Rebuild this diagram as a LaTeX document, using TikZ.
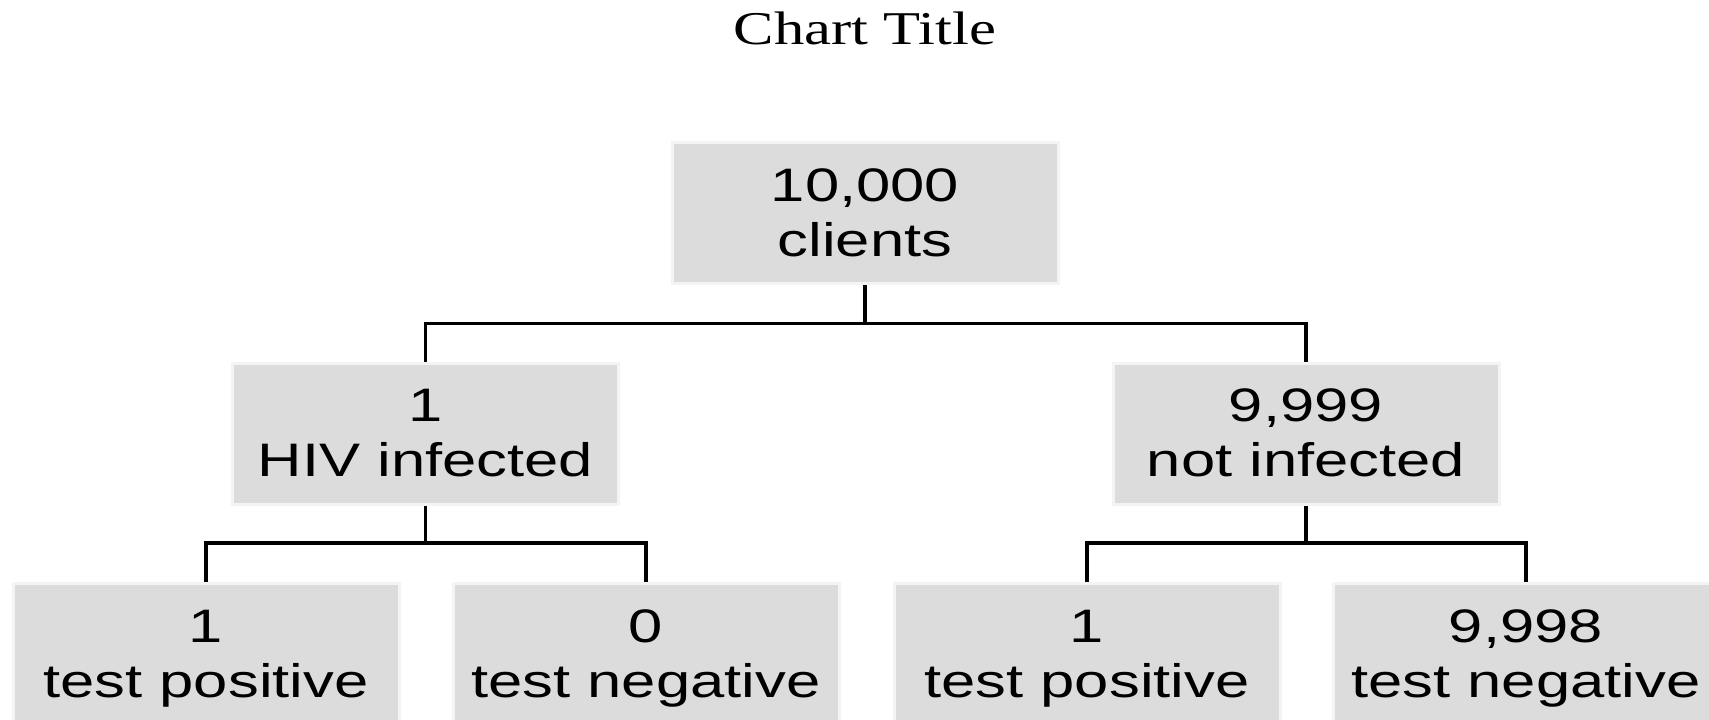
\documentclass[tikz,border=0pt]{standalone}
\usepackage{fontspec}
\newfontfamily\boxfont[FakeStretch=1.31]{Liberation Sans}
\newfontfamily\titlefont[FakeStretch=1.29]{Liberation Serif}
\definecolor{boxfill}{HTML}{DCDCDC}
\definecolor{boxedge}{HTML}{F4F4F4}
\begin{document}
\begin{tikzpicture}[x=1pt,y=-1pt,
  box/.style={fill=boxfill,draw=boxedge,line width=3pt,minimum width=386pt,minimum height=141pt,inner sep=0pt,outer sep=0pt},
  lbl/.style={font=\boxfont\fontsize{47}{55}\selectfont,anchor=base,inner sep=0pt},
  ttl/.style={font=\titlefont\fontsize{47}{56}\selectfont,anchor=base,inner sep=0pt},
  link/.style={line width=3.4pt,black}]
\useasboundingbox (0,0) rectangle (1709,720);
% boxes
\node[box] (root) at (865,213) {};
\node[box] (hiv) at (425.5,433.5) {};
\node[box] (notinf) at (1306,433.5) {};
\node[box] (l1) at (206,654) {};
\node[box] (l2) at (646,654) {};
\node[box] (l3) at (1087,654) {};
\node[box] (l4) at (1526,654) {};
% connectors
\draw[link] (root.south) -- ++(0,40) -| (hiv.north);
\draw[link] (root.south) -- ++(0,40) -| (notinf.north);
\draw[link] (hiv.south) -- ++(0,39) -| (l1.north);
\draw[link] (hiv.south) -- ++(0,39) -| (l2.north);
\draw[link] (notinf.south) -- ++(0,39) -| (l3.north);
\draw[link] (notinf.south) -- ++(0,39) -| (l4.north);
% redraw boxes on top
\node[box] at (root) {};
\node[box] at (hiv) {};
\node[box] at (notinf) {};
\node[box] at (l1) {};
\node[box] at (l2) {};
\node[box] at (l3) {};
\node[box] at (l4) {};
% title
\node[ttl] (title) at (865,45) {Chart Title};
% texts
\node[lbl] (rootA) at (865,201) {10,000};
\node[lbl] (rootB) at (865,256) {clients};
\node[lbl] (hivA) at (425.5,421) {1};
\node[lbl] (hivB) at (425.5,476) {HIV infected};
\node[lbl] (notA) at (1306,421) {9,999};
\node[lbl] (notB) at (1306,476) {not infected};
\node[lbl] (l1A) at (206,642) {1};
\node[lbl] (l1B) at (206,697) {test positive};
\node[lbl] (l2A) at (646,642) {0};
\node[lbl] (l2B) at (646,697) {test negative};
\node[lbl] (l3A) at (1087,642) {1};
\node[lbl] (l3B) at (1087,697) {test positive};
\node[lbl] (l4A) at (1526,642) {9,998};
\node[lbl] (l4B) at (1526,697) {test negative};
\end{tikzpicture}
\end{document}
